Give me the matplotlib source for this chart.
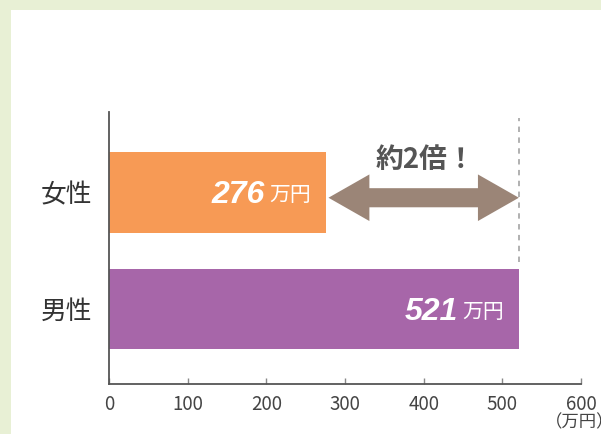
import matplotlib.pyplot as plt
import matplotlib.patches as patches

plt.rcParams['font.family'] = ['Noto Sans CJK JP', 'DejaVu Sans']

categories = ['男性', '女性']
values = [521, 276]
colors = ['#A766A9', '#F79A55']
unit = '万円'
ratio_text = '約2倍！'
xticks = [0, 100, 200, 300, 400, 500, 600]
axis_unit = '（万円）'

fig = plt.figure(figsize=(6.01, 4.34), dpi=100)
fig.patch.set_facecolor('#E8F0D5')
# white panel
fig.add_artist(patches.Rectangle((11 / 601, 0), 1, 1 - 10 / 434,
                                 transform=fig.transFigure,
                                 facecolor='white', edgecolor='none', zorder=0))

ax = fig.add_axes([109 / 601, 50 / 434, 472 / 601, 272 / 434])
ax.set_facecolor('none')

ypos = list(range(len(categories)))
ax.barh(ypos, values, height=0.687, color=colors, zorder=2)

ax.set_xlim(0, 600)
ax.set_ylim(-0.644, 1.691)

ax.spines['top'].set_visible(False)
ax.spines['right'].set_visible(False)
for s in ['left', 'bottom']:
    ax.spines[s].set_color('#555555')
    ax.spines[s].set_linewidth(1.3)

ax.set_xticks(xticks)
ax.set_xticklabels([str(t) for t in xticks], fontsize=13.5, color='#444444')
ax.tick_params(axis='x', direction='in', length=4.5, width=1, color='#888888', pad=7)
ax.set_yticks(ypos)
ax.set_yticklabels(categories, fontsize=18.5, color='#333333')
ax.tick_params(axis='y', length=0, pad=12)

# value labels
for y, v in zip(ypos, values):
    ax.annotate(unit, (v, y), xytext=(-15, -3), textcoords='offset pixels',
                ha='right', va='center', color='white', fontsize=15, zorder=3)
    ax.annotate(str(v), (v, y), xytext=(-61, -3), textcoords='offset pixels',
                ha='right', va='center', color='white', fontsize=23,
                fontweight='bold', fontstyle='italic',
                family=['Liberation Sans', 'DejaVu Sans'], zorder=3)

# dashed reference line at male value
ax.plot([values[0], values[0]], [0.40, 1.64], ls=(0, (3, 3)), color='#AAAAAA',
        lw=1.3, zorder=1)

# double arrow between the two values
x0 = values[1] + 3
x1 = values[0]
yc = 0.955
hl = 52
hw = 0.20
sw = 0.082
pts = [(x0, yc), (x0 + hl, yc + hw), (x0 + hl, yc + sw), (x1 - hl, yc + sw),
       (x1 - hl, yc + hw), (x1, yc), (x1 - hl, yc - hw), (x1 - hl, yc - sw),
       (x0 + hl, yc - sw), (x0 + hl, yc - hw)]
ax.add_patch(patches.Polygon(pts, closed=True, facecolor='#9B8577',
                             edgecolor='none', zorder=3))
ax.text((x0 + x1) / 2 + 2, 1.28, ratio_text, ha='center', va='center',
        fontsize=20, fontweight='bold', color='#555555')

ax.annotate(axis_unit, (600, -0.644), xytext=(-36, -29), textcoords='offset pixels',
            ha='left', va='top', fontsize=12.5, color='#444444',
            annotation_clip=False)

fig.savefig('out.png', dpi=100, facecolor=fig.get_facecolor())
